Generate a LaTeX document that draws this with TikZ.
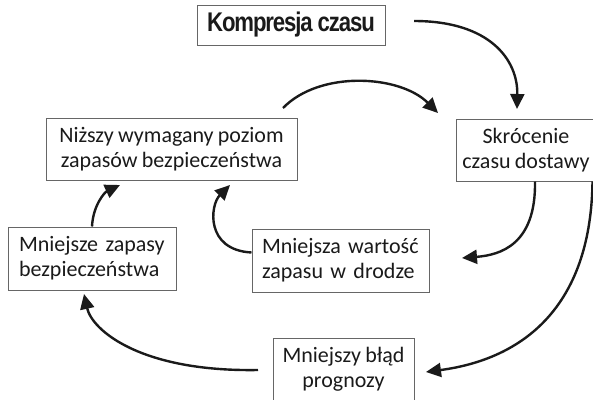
\documentclass[tikz,border=0pt]{standalone}
\usepackage{fontspec}
\usepackage{graphicx}
\setmainfont[WordSpace=0.85]{Carlito}
\newfontfamily\headfont[LetterSpace=-5]{Liberation Sans}
\usetikzlibrary{arrows.meta,calc}
\definecolor{inkblack}{HTML}{1A1A1A}
\definecolor{boxgray}{HTML}{666666}
\begin{document}
\begin{tikzpicture}[x=1pt,y=-1pt,
  box/.style={draw=boxgray, line width=1pt, text=inkblack,
    font=\fontsize{22}{25}\selectfont, inner sep=0pt},
  flow/.style={line width=2.4pt, draw=inkblack,
    -{Triangle[length=15pt,width=14pt]}}]
  \useasboundingbox (0,0) rectangle (593,399);

  % boxes
  \node[box, minimum width=188pt, minimum height=40pt,
        font=\headfont\bfseries\fontsize{27}{27}\selectfont]
        (komp) at (291,25) {\scalebox{0.82}[1]{Kompresja czasu}};
  \node[box, minimum width=251pt, minimum height=62pt, align=center]
        (niz) at (171.5,149) {Niższy wymagany poziom\\zapasów bezpieczeństwa};
  \node[box, minimum width=140pt, minimum height=62pt, align=center]
        (skr) at (526,150) {Skrócenie\\czasu dostawy};
  \node[box, minimum height=63pt, inner xsep=11pt, text width=146pt, align=left]
        (mzap) at (92,258.5) {Mniejsze zapasy\\bezpieczeństwa};
  \node[box, minimum height=63pt, inner xsep=10pt, text width=157pt, align=left]
        (mwart) at (340.5,260.5) {Mniejsza wartość\\zapasu w drodze};
  \node[box, minimum width=141pt, minimum height=63pt, align=center]
        (mblad) at (343.5,369.5) {Mniejszy błąd\\prognozy};

  % free ends of the connectors
  \coordinate (kompout) at (414,21);
  \coordinate (skrin) at (517,109);
  \coordinate (nizout) at (283,108);
  \coordinate (skrin2) at (438,113);
  \coordinate (mwartin) at (462,258);
  \coordinate (mbladin) at (426,372);
  \coordinate (nizin) at (230,185);
  \coordinate (nizin2) at (120,185);
  \coordinate (mbladout) at (258,370);
  \coordinate (mzapin) at (84,294);

  % connectors
  \draw[flow] (kompout) .. controls (490,21) and (518,60) .. (skrin);
  \draw[flow] (nizout) .. controls (320,70) and (400,75) .. (skrin2);
  \draw[flow] ($(skr.south)+(9,0)$) .. controls (536,245) and (500,255) .. (mwartin);
  \draw[flow] ($(skr.south east)+(-4,0)$) .. controls (591,300) and (530,358) .. (mbladin);
  \draw[flow] ($(mwart.west)+(0,-8)$) .. controls (205,250) and (210,205) .. (nizin);
  \draw[flow] (mzap.north) .. controls (93,205) and (105,192) .. (nizin2);
  \draw[flow] (mbladout) .. controls (140,372) and (92,330) .. (mzapin);
\end{tikzpicture}
\end{document}
